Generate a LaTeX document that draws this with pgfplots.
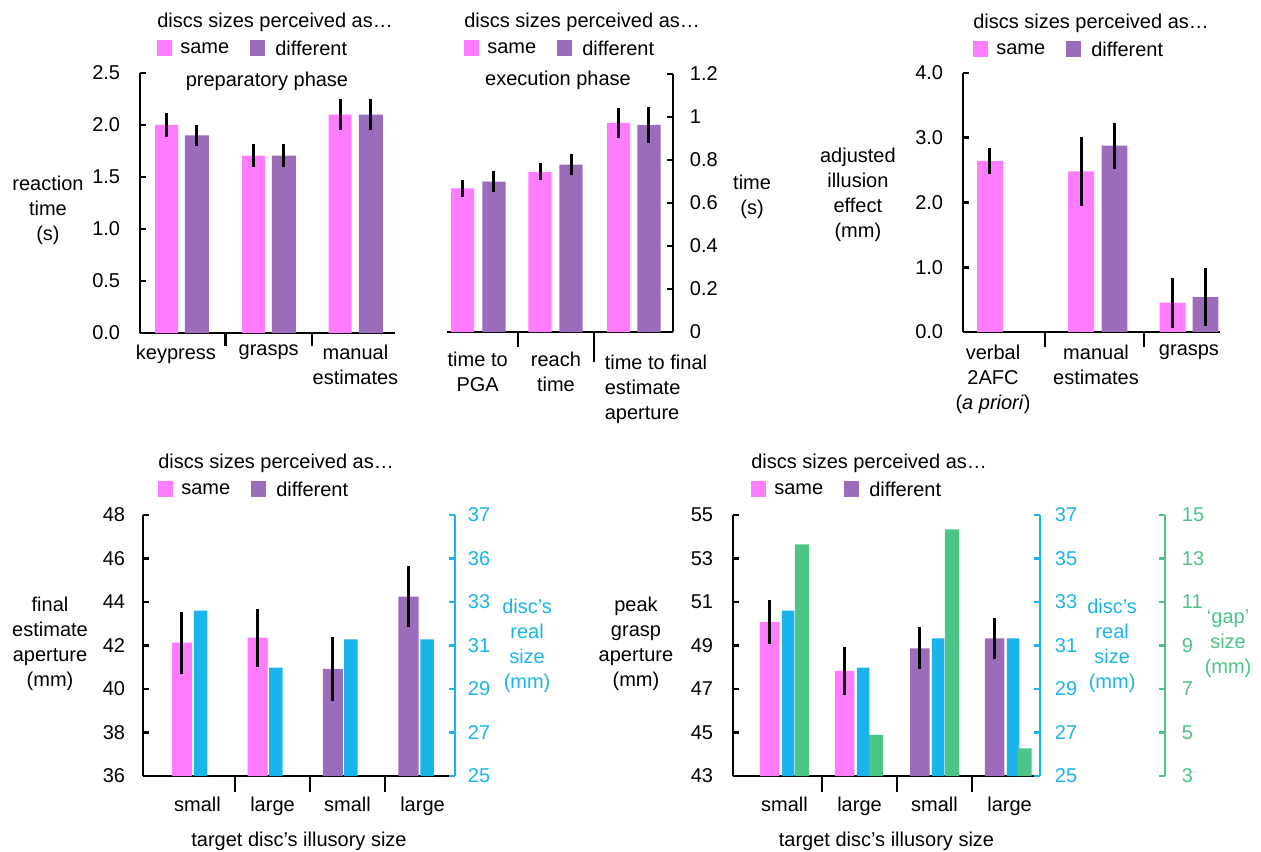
\documentclass[border=0pt]{standalone}
\usepackage{fontspec}
\setmainfont{Liberation Sans}
\usepackage{pgfplots}
\pgfplotsset{compat=1.18}

\definecolor{pinkc}{HTML}{FF7CFF}
\definecolor{purplec}{HTML}{9A6CB9}
\definecolor{bluec}{HTML}{1BB4EA}
\definecolor{greenc}{HTML}{4CC486}
% 1 px of the reference = 0.75pt
\def\pu{0.75pt}

\pgfplotsset{
  panel/.style={
    scale only axis, anchor=south west, clip mode=individual,
    axis x line*=bottom, axis y line*=left,
    axis line style={line width=2pt, -},
    tick style={line width=2pt, black},
    tick align=inside, major tick length=4.5pt,
    xtick style={draw=none},
    /pgf/number format/assume math mode=true,
    xticklabel style={align=center},
    every axis y label/.style={anchor=center, align=center},
    every axis x label/.style={anchor=center},
  },
  side/.style={
    scale only axis, anchor=south west, clip mode=individual,
    axis x line=none, axis y line*=right, xtick=\empty,
    axis line style={line width=2pt, -, #1},
    tick style={line width=2pt, #1},
    tick align=inside, major tick length=4.5pt,
    yticklabel style={text=#1},
    /pgf/number format/assume math mode=true,
    every axis y label/.style={anchor=center, align=center, text=#1},
  },
  onedec/.style={yticklabel style={/pgf/number format/fixed,
    /pgf/number format/fixed zerofill, /pgf/number format/precision=1}},
  err/.style={error bars/.cd, y dir=both, y explicit, error mark=none,
    error bar style={line width=2.25pt, black}},
}

\newcommand{\perclegend}[2]{%
  \node[anchor=west, inner sep=0] at ({#1*\pu},{-#2*\pu}) {discs sizes perceived as…};
  \fill[pinkc] ({#1*\pu},{-(#2+18)*\pu}) rectangle ++({15*\pu},{-16*\pu});
  \node[anchor=west, inner sep=0] at ({(#1+23)*\pu},{-(#2+26)*\pu}) {same};
  \fill[purplec] ({(#1+93)*\pu},{-(#2+18)*\pu}) rectangle ++({15*\pu},{-16*\pu});
  \node[anchor=west, inner sep=0] at ({(#1+118)*\pu},{-(#2+26)*\pu}) {different};
}

\begin{document}
\fontsize{15pt}{18.75pt}\selectfont
\begin{tikzpicture}
\useasboundingbox (0,0) rectangle (945.75pt,-639pt);

% ---------------- preparatory phase ----------------
\begin{axis}[panel, onedec, at={(105pt,-249.75pt)}, width=191.25pt, height=195pt,
  xmin=0.516, xmax=3.456, ymin=0, ymax=2.5, ytick={0,0.5,...,2.5},
  yticklabel style={xshift=-9.75pt},
  xtick={0.93,2,3}, xticklabels={keypress, grasps, manual\\estimates},
  xticklabel style={yshift=-3.75pt},
  ylabel={reaction\\time\\(s)}, ylabel style={at={(axis description cs:-0.361,0.473)}},
]
\addplot[ybar, bar width=0.265, bar shift=0pt, fill=pinkc, draw=none, err] coordinates {
  (0.822,2.00) +- (0,0.115)
  (1.825,1.705) +- (0,0.11)
  (2.822,2.10) +- (0,0.15)
};
\addplot[ybar, bar width=0.277, bar shift=0pt, fill=purplec, draw=none, err] coordinates {
  (1.173,1.90) +- (0,0.10)
  (2.176,1.705) +- (0,0.11)
  (3.179,2.10) +- (0,0.15)
};
\draw[line width=2pt] (axis cs:1.5,0) -- ++(0pt,-9.75pt);
\draw[line width=2pt] (axis cs:2.5,0) -- ++(0pt,-9.75pt);
\end{axis}

% ---------------- execution phase ----------------
\begin{axis}[panel, at={(335.25pt,-249pt)}, width=169.5pt, height=193.5pt,
  axis y line*=right,
  xmin=0.594, xmax=3.51, ymin=0, ymax=1.2, ytick={0,0.2,...,1.2},
  yticklabel style={xshift=7.5pt},
  xtick={0.99,2,3.29},
  xticklabels={time to\\PGA, reach\\time,
    {\begin{tabular}{@{}l@{}}time to final\\estimate\\aperture\end{tabular}}},
  xticklabel style={yshift=-9.75pt},
  ylabel={time\\(s)}, ylabel style={at={(axis description cs:1.35,0.523)}},
]
\addplot[ybar, bar width=0.3, bar shift=0pt, fill=pinkc, draw=none, err] coordinates {
  (0.794,0.668) +- (0,0.039)
  (1.794,0.745) +- (0,0.039)
  (2.807,0.973) +- (0,0.07)
};
\addplot[ybar, bar width=0.3, bar shift=0pt, fill=purplec, draw=none, err] coordinates {
  (1.2,0.70) +- (0,0.049)
  (2.194,0.778) +- (0,0.049)
  (3.2,0.963) +- (0,0.082)
};
\draw[line width=2pt] (axis cs:1.51,0) -- ++(0pt,-11.25pt);
\draw[line width=2pt] (axis cs:2.49,0) -- ++(0pt,-22.5pt);
\end{axis}

% ---------------- adjusted illusion effect ----------------
\begin{axis}[panel, onedec, at={(722.25pt,-249pt)}, width=192.75pt, height=194.25pt,
  xmin=0.53, xmax=3.339, ymin=0, ymax=4, ytick={0,1,...,4},
  yticklabel style={xshift=-9.75pt},
  xtick={0.858,1.984,3}, xticklabels={verbal\\2AFC\\(\textit{a priori}), manual\\estimates, grasps},
  xticklabel style={yshift=-4.5pt},
  ylabel={adjusted\\illusion\\effect\\(mm)}, ylabel style={at={(axis description cs:-0.409,0.531)}},
]
\addplot[ybar, bar width=0.284, bar shift=0pt, fill=pinkc, draw=none, err] coordinates {
  (0.825,2.64) +- (0,0.195)
  (1.82,2.48) +- (0,0.535)
  (2.82,0.454) +- (0,0.387)
};
\addplot[ybar, bar width=0.28, bar shift=0pt, fill=purplec, draw=none, err] coordinates {
  (2.186,2.88) +- (0,0.355)
  (3.18,0.54) +- (0,0.445)
};
\draw[line width=2pt] (axis cs:1.426,0) -- ++(0pt,-11.25pt);
\draw[line width=2pt] (axis cs:2.508,0) -- ++(0pt,-11.25pt);
\end{axis}

% ---------------- final estimate aperture ----------------
\begin{axis}[panel, at={(107.25pt,-582pt)}, width=234pt, height=195.75pt,
  xmin=0.273, xmax=4.433, ymin=36, ymax=48, ytick={36,38,...,48},
  yticklabel style={xshift=-8.25pt},
  xtick={1,2,3,4}, xticklabels={small,large,small,large},
  xticklabel style={yshift=-10.5pt},
  xlabel={target disc’s illusory size}, xlabel style={at={(axis description cs:0.5,-0.249)}},
  ylabel={final\\estimate\\aperture\\(mm)}, ylabel style={at={(axis description cs:-0.298,0.506)}},
]
\addplot[ybar, bar width=0.267, bar shift=0pt, fill=pinkc, draw=none, err] coordinates {
  (0.793,42.13) +- (0,1.42)
  (1.80,42.36) +- (0,1.33)
};
\addplot[ybar, bar width=0.267, bar shift=0pt, fill=purplec, draw=none, err] coordinates {
  (2.806,40.92) +- (0,1.45)
  (3.813,44.25) +- (0,1.40)
};
\draw[line width=2pt] (axis cs:1.5,36) -- ++(0pt,-12pt);
\draw[line width=2pt] (axis cs:2.5,36) -- ++(0pt,-12pt);
\draw[line width=2pt] (axis cs:3.5,36) -- ++(0pt,-12pt);
\end{axis}
\begin{axis}[side=bluec, at={(107.25pt,-582pt)}, width=234pt, height=195.75pt,
  xmin=0.273, xmax=4.433, ymin=25, ymax=37, ytick={25,27,...,37},
  yticklabels={25,27,29,31,33,36,37},
  yticklabel style={xshift=4.5pt},
  ylabel={disc’s\\real\\size\\(mm)}, ylabel style={at={(axis description cs:1.231,0.498)}},
]
\addplot[ybar, bar width=0.18, bar shift=0pt, fill=bluec, draw=none] coordinates {
  (1.04,32.6) (2.046,29.98) (3.046,31.28) (4.06,31.28)
};
\end{axis}

% ---------------- peak grasp aperture ----------------
\begin{axis}[panel, at={(549.75pt,-582pt)}, width=230.25pt, height=195.75pt,
  xmin=0.313, xmax=4.406, ymin=43, ymax=55, ytick={43,45,...,55},
  yticklabel style={xshift=-9.75pt},
  xtick={1,2,3,4}, xticklabels={small,large,small,large},
  xticklabel style={yshift=-10.5pt},
  xlabel={target disc’s illusory size}, xlabel style={at={(axis description cs:0.5,-0.249)}},
  ylabel={peak\\grasp\\aperture\\(mm)}, ylabel style={at={(axis description cs:-0.316,0.506)}},
]
\addplot[ybar, bar width=0.26, bar shift=0pt, fill=pinkc, draw=none, err] coordinates {
  (0.8,50.07) +- (0,1.01)
  (1.8,47.83) +- (0,1.10)
};
\addplot[ybar, bar width=0.26, bar shift=0pt, fill=purplec, draw=none, err] coordinates {
  (2.806,48.87) +- (0,0.96)
  (3.8,49.33) +- (0,0.95)
};
\draw[line width=2pt] (axis cs:1.5,43) -- ++(0pt,-12pt);
\draw[line width=2pt] (axis cs:2.5,43) -- ++(0pt,-12pt);
\draw[line width=2pt] (axis cs:3.5,43) -- ++(0pt,-12pt);
\end{axis}
\begin{axis}[side=bluec, at={(549.75pt,-582pt)}, width=230.25pt, height=195.75pt,
  xmin=0.313, xmax=4.406, ymin=25, ymax=37, ytick={25,27,...,37},
  yticklabel style={xshift=6pt},
  ylabel={disc’s\\real\\size\\(mm)}, ylabel style={at={(axis description cs:1.235,0.498)}},
]
\addplot[ybar, bar width=0.167, bar shift=0pt, fill=bluec, draw=none] coordinates {
  (1.047,32.6) (2.047,29.98) (3.047,31.33) (4.047,31.33)
};
\end{axis}
\begin{axis}[side=greenc, at={(549.75pt,-582pt)}, width=324pt, height=195.75pt,
  xmin=0.313, xmax=6.073, ymin=3, ymax=15, ytick={3,5,...,15},
  yticklabel style={xshift=7.5pt},
  ylabel={‘gap’\\size\\(mm)}, ylabel style={at={(axis description cs:1.146,0.506)}},
]
\addplot[ybar, bar width=0.187, bar shift=0pt, fill=greenc, draw=none] coordinates {
  (1.233,13.65) (2.22,4.89) (3.233,14.34) (4.2,4.27)
};
\end{axis}

% titles and legends
\node[inner sep=0] at ({267*\pu},{-81*\pu}) {preparatory phase};
\node[inner sep=0] at ({558*\pu},{-80*\pu}) {execution phase};
\perclegend{157}{22}
\perclegend{464}{22}
\perclegend{973}{23}
\perclegend{158}{463}
\perclegend{751}{463}
\end{tikzpicture}
\end{document}
